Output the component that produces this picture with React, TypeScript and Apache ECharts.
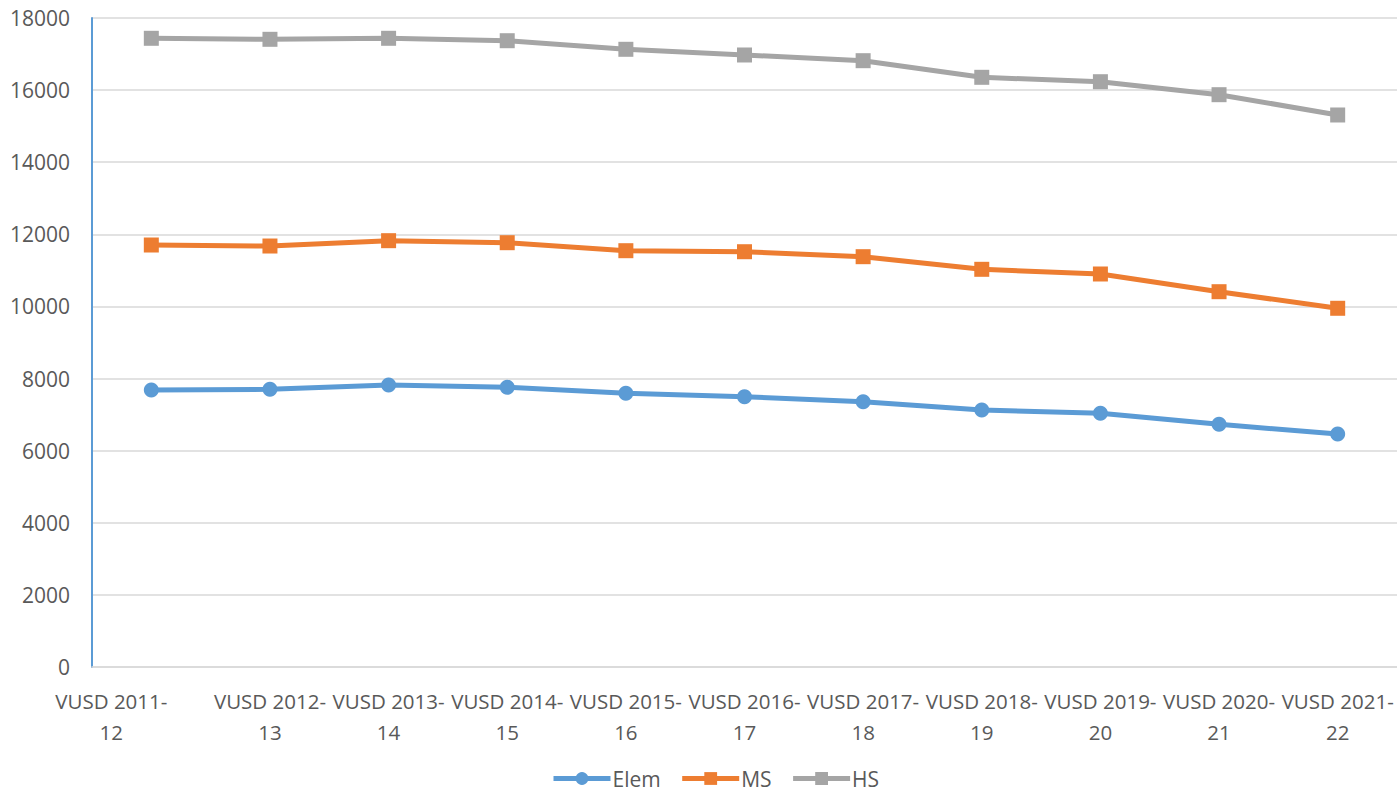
import React, { useEffect, useRef } from "react";
import * as echarts from "echarts";

const categories = [
  "VUSD 2011-12", "VUSD 2012-13", "VUSD 2013-14", "VUSD 2014-15", "VUSD 2015-16",
  "VUSD 2016-17", "VUSD 2017-18", "VUSD 2018-19", "VUSD 2019-20", "VUSD 2020-21", "VUSD 2021-22",
];
const elem = [7683, 7702, 7821, 7757, 7591, 7497, 7358, 7128, 7036, 6731, 6462];
const ms = [11704, 11676, 11824, 11768, 11546, 11518, 11380, 11030, 10900, 10409, 9949];
const hs = [17437, 17409, 17437, 17370, 17132, 16974, 16816, 16355, 16233, 15873, 15310];

const FONT = "'Open Sans', 'Noto Sans', sans-serif";

export default function App() {
  const ref = useRef<HTMLDivElement>(null);
  useEffect(() => {
    if (!ref.current) return;
    const chart = echarts.init(ref.current, undefined, { renderer: "svg" });
    const mk = (name: string, data: number[], color: string, symbol: string, size: number) => ({
      name,
      type: "line",
      data,
      symbol,
      symbolSize: size,
      lineStyle: { color, width: 5 },
      itemStyle: { color },
      emphasis: { disabled: true },
    });
    chart.setOption({
      animation: false,
      grid: { left: 92, right: 0, top: 18, bottom: 129, containLabel: false },
      legend: {
        bottom: 2,
        left: 546,
        itemWidth: 57,
        itemHeight: 16,
        itemGap: 19,
        lineStyle: { width: 5 },
        textStyle: { fontFamily: FONT, fontSize: 21, color: "#595959", padding: [0, 0, 0, -3] },
        data: ["Elem", "MS", "HS"],
      },
      xAxis: {
        type: "category",
        data: categories,
        boundaryGap: true,
        axisLine: { show: true, lineStyle: { color: "#D9D9D9", width: 1.5 } },
        axisTick: { show: false },
        axisLabel: {
          interval: 0,
          margin: 18,
          color: "#595959",
          fontFamily: FONT,
          fontSize: 20.5,
          lineHeight: 31,
          formatter: (v: string, i: number) => {
            const parts = v.split("-");
            const t = parts[0] + "-\n" + parts[1];
            return i === 0 ? "{first|" + t + "}" : t;
          },
          rich: {
            first: {
              fontFamily: FONT,
              fontSize: 20.5,
              lineHeight: 31,
              color: "#595959",
              padding: [0, 80, 0, 0],
            },
          },
        },
      },
      yAxis: {
        type: "value",
        min: 0,
        max: 18000,
        interval: 2000,
        axisLine: { show: true, lineStyle: { color: "#5B9BD5", width: 2 } },
        axisTick: { show: false },
        axisLabel: {
          margin: 22,
          color: "#595959",
          fontFamily: FONT,
          fontSize: 21,
          formatter: (v: number) => String(v),
        },
        splitLine: { lineStyle: { color: "#D9D9D9", width: 1.5 } },
      },
      series: [
        mk("Elem", elem, "#5B9BD5", "circle", 15),
        mk("MS", ms, "#ED7D31", "rect", 15),
        mk("HS", hs, "#A5A5A5", "rect", 15),
      ],
    });
    return () => chart.dispose();
  }, []);
  return (
    <div
      ref={ref}
      style={{ position: "fixed", left: 0, top: 0, width: 1397, height: 796, background: "#fff" }}
    />
  );
}
